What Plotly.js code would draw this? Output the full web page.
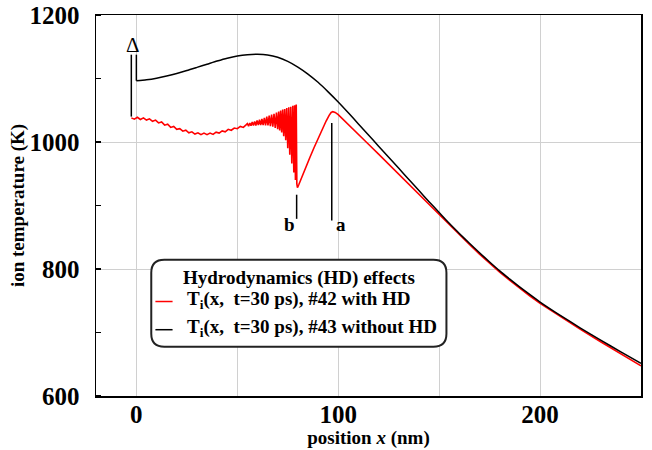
<!DOCTYPE html>
<html>
<head>
<meta charset="utf-8">
<script src="https://cdn.plot.ly/plotly-3.0.1.min.js"></script>
<style>html,body{margin:0;padding:0;background:#fff;}#chart{width:652px;height:450px;}</style>
</head>
<body>
<div id="chart"></div>
<script>
// ---------- data ----------
// #43 without HD (black)
const blackX = [0,5,10,15,20,25,30,35,40,45,50,55,60,65,70,75,80,85,90,95,100,105,110,115,120,125,130,135,140,145,150,155,160,165,170,175,180,185,190,195,200,210,220,230,240,250];
const blackY = [1096.5,1098,1100.5,1104,1108,1112.5,1117.5,1122.5,1127.5,1132,1135.5,1137.5,1138,1137,1133.5,1127,1118,1107,1094,1079,1063,1046,1028.5,1011,993.5,976,958.5,941,923.5,906,889,872,856,840.5,825.5,811,797,784,771.5,759.5,748,727,707,688,669.5,651.5];

// #42 with HD (red)
const redX = [-2.5,-1,0.5,2,3.5,5,6.5,8,9.5,11,12.5,14,15.5,17,18.5,20,21.5,23,24.5,26,27.5,29,30.5,32,33.5,35,36.5,38,39.5,41,42.5,44,45.5,47,48.5,50,51.5,53,54.2,
  55.0,55.6,56.2,56.8,57.4,58.0,58.6,59.2,59.8,60.4,61.0,61.6,62.2,62.8,63.4,64.0,64.6,65.2,65.8,66.4,67.0,67.6,68.2,68.8,69.4,70.0,70.5,71.0,71.5,72.0,72.5,73.0,73.5,74.0,74.5,75.0,75.5,76.0,76.5,77.0,77.5,78.0,78.4,78.8,79.2,79.5,79.8,
  80.5,82,84,86,88,90,92,94,95.5,96.5,97.3,98.5,100,105,110,115,120,125,130,135,140,145,150,155,160,165,170,175,180,185,190,195,200,210,220,230,240,250];
const redY = [1038,1036,1039,1035.5,1038,1034.5,1036.5,1032.5,1034.5,1030,1031.5,1026.5,1028,1023,1024.5,1020,1021,1017,1018.5,1014.5,1016,1012.5,1014.5,1011.5,1014,1011.5,1014,1012,1015.5,1014,1017.5,1016,1020,1018.5,1022,1021,1024.5,1023,1026.5,
  1029,1025,1030,1025.5,1031.5,1026,1032.5,1026,1034,1026.5,1035,1026.5,1036.5,1026.5,1038,1026,1040,1026,1041.5,1025,1043,1024,1044.5,1022,1046.5,1020,1048,1018,1049.5,1015,1051,1009,1052,1003,1053.5,990,1054.5,980,1055.5,966,1057,952,1058,940,1059,934,928,
  933,944,960,976,991,1005.5,1019.5,1033,1042,1046.5,1047.8,1046.5,1043,1028,1012,996.5,981,965,949,933,917,901,885.5,869.5,854,838.5,823.5,809,795,782,769.5,757.5,746,725,705,685.5,666.5,647.5];

// axis ticks
const xTickVals = [0,100,200];
const xTickText = ['0','100','200'];
const yTickVals = [600,800,1000,1200];
const yTickText = ['600','800','1000','1200'];

// marker lines (Δ, b, a) and their labels
const markLineX  = [-2.5, 0, 79.4, 96.8];
const markLineY0 = [1040, 1096.5, 879, 876.5];
const markLineY1 = [1137.5, 1137.5, 917, 1030];
const markLabels = ['\u0394', 'b', 'a'];
const markLabelX = [-1.6, 76, 101.5];
const markLabelY = [1152, 870, 870];

// legend texts
const legendTitle = 'Hydrodynamics (HD) effects';
const seriesNames = ['T<sub>i</sub>(x,\u00a0 t=30 ps), #42 with HD', 'T<sub>i</sub>(x,\u00a0 t=30 ps), #43 without HD'];
const seriesColors = ['#ff0000', '#000000'];

// ---------- figure ----------
const serif = 'Liberation Serif';
const traces = [
  {x: redX, y: redY, type: 'scatter', mode: 'lines', name: seriesNames[0],
   line: {color: seriesColors[0], width: 1.6}, showlegend: false, hoverinfo: 'skip'},
  {x: blackX, y: blackY, type: 'scatter', mode: 'lines', name: seriesNames[1],
   line: {color: seriesColors[1], width: 1.5, shape: 'spline', smoothing: 0.6}, showlegend: false, hoverinfo: 'skip'}
];

const shapes = [];
for (let i = 0; i < markLineX.length; i++) {
  shapes.push({type: 'line', xref: 'x', yref: 'y', x0: markLineX[i], x1: markLineX[i],
    y0: markLineY0[i], y1: markLineY1[i], line: {color: 'black', width: 1.5}});
}
// rounded legend box
const bx0 = 0.1014, bx1 = 0.643, by0 = 0.1294, by1 = 0.3577, rx = 0.0239, ry = 0.0341;
const boxPath = `M ${bx0+rx},${by1} L ${bx1-rx},${by1} Q ${bx1},${by1} ${bx1},${by1-ry} L ${bx1},${by0+ry} Q ${bx1},${by0} ${bx1-rx},${by0} L ${bx0+rx},${by0} Q ${bx0},${by0} ${bx0},${by0+ry} L ${bx0},${by1-ry} Q ${bx0},${by1} ${bx0+rx},${by1} Z`;
shapes.push({type: 'path', xref: 'paper', yref: 'paper', path: boxPath, fillcolor: 'white',
  line: {color: '#222', width: 2}, layer: 'above'});
const entryY = [0.248, 0.174];
for (let i = 0; i < 2; i++) {
  shapes.push({type: 'line', xref: 'paper', yref: 'paper', x0: 0.109, x1: 0.1405,
    y0: entryY[i], y1: entryY[i], line: {color: seriesColors[i], width: 1.5}, layer: 'above'});
}

const annotations = [];
for (let i = 0; i < markLabels.length; i++) {
  annotations.push({x: markLabelX[i], y: markLabelY[i], xref: 'x', yref: 'y', text: markLabels[i],
    showarrow: false, xanchor: 'center', yanchor: 'middle',
    font: {family: serif, size: i === 0 ? 21 : 19, color: 'black', weight: i === 0 ? 'normal' : 'bold'}});
}
annotations.push({x: 0.372, y: 0.3105, xref: 'paper', yref: 'paper', text: legendTitle, showarrow: false,
  xanchor: 'center', yanchor: 'middle', font: {family: serif, size: 19, color: 'black', weight: 'bold'}});
for (let i = 0; i < 2; i++) {
  annotations.push({x: 0.1625, y: entryY[i] + 0.004, xref: 'paper', yref: 'paper', text: seriesNames[i],
    showarrow: false, xanchor: 'left', yanchor: 'middle',
    font: {family: serif, size: 19, color: 'black', weight: 'bold'}});
}

const layout = {
  width: 652, height: 450,
  margin: {l: 96, r: 11, t: 15, b: 54, pad: 0},
  paper_bgcolor: 'white', plot_bgcolor: 'white',
  showlegend: false,
  font: {family: serif, color: 'black'},
  xaxis: {
    range: [-20, 250], tickmode: 'array', tickvals: xTickVals, ticktext: xTickText,
    showgrid: true, gridcolor: '#d0d0d0', gridwidth: 1, zeroline: false,
    minor: {showgrid: true, gridcolor: '#d0d0d0', gridwidth: 1, tickmode: 'linear', tick0: 0, dtick: 50, ticks: ''},
    showline: true, linecolor: 'black', linewidth: 1.5, mirror: true, ticks: '',
    ticklabelstandoff: -5,
    tickfont: {family: serif, size: 25, weight: 'bold', color: 'black'},
    title: {text: 'position <i>x</i> (nm)', font: {family: serif, size: 19, weight: 'bold', color: 'black'}, standoff: 0},
    automargin: false
  },
  yaxis: {
    range: [600, 1200], tickmode: 'array', tickvals: yTickVals, ticktext: yTickText,
    showgrid: true, gridcolor: '#d0d0d0', gridwidth: 1, zeroline: false,
    showline: true, linecolor: 'black', linewidth: 1.5, mirror: true, ticks: '',
    ticklabelstandoff: 10,
    minor: {ticks: 'inside', ticklen: 5, tickwidth: 1.5, tickcolor: 'black', tickmode: 'linear', tick0: 600, dtick: 100, showgrid: false},
    tickfont: {family: serif, size: 25, weight: 'bold', color: 'black'},
    title: {text: 'ion temperature (K)', font: {family: serif, size: 19, weight: 'bold', color: 'black'}, standoff: 0},
    automargin: false
  },
  shapes: shapes,
  annotations: annotations
};

Plotly.newPlot('chart', traces, layout, {staticPlot: true, displayModeBar: false});
</script>
</body>
</html>
